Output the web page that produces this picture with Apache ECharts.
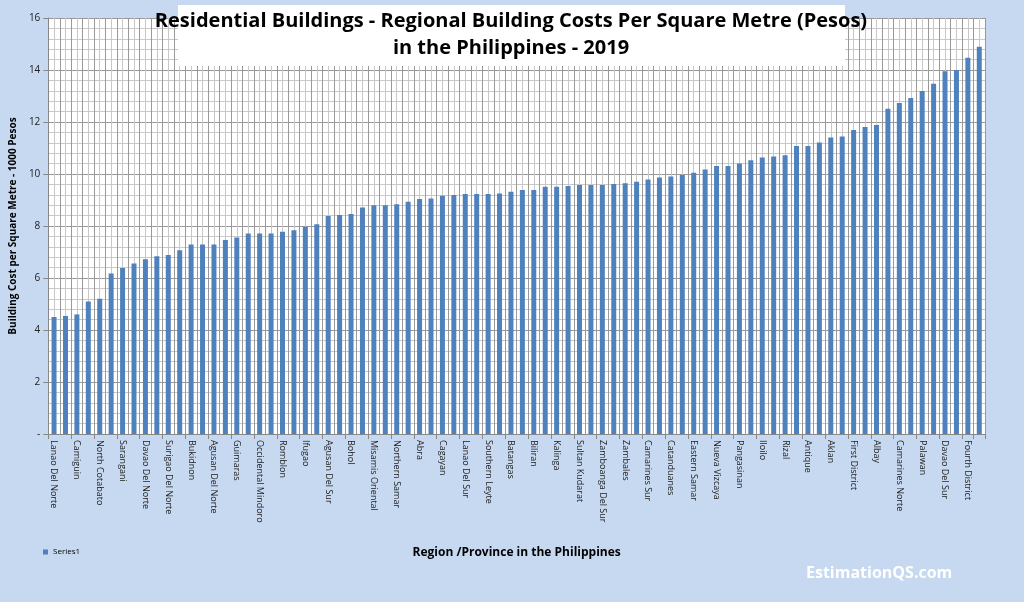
<!DOCTYPE html>
<html>
<head>
<meta charset="utf-8">
<script src="https://cdn.jsdelivr.net/npm/echarts@6/dist/echarts.min.js"></script>
<style>
html,body{margin:0;padding:0;background:#c6d9f0;}
#chart{width:1024px;height:602px;}
</style>
</head>
<body>
<div id="chart"></div>
<script>
// labelled provinces (every second bar carries a label)
var shownNames = ['Lanao Del Norte','Camiguin','North Cotabato','Sarangani','Davao Del Norte','Surigao Del Norte',
	'Bukidnon','Agusan Del Norte','Guimaras','Occidental Mindoro','Romblon','Ifugao','Agusan Del Sur','Bohol',
	'Misamis Oriental','Northern Samar','Abra','Cagayan','Lanao Del Sur','Southern Leyte','Batangas','Biliran',
	'Kalinga','Sultan Kudarat','Zamboanga Del Sur','Zambales','Camarines Sur','Catanduanes','Eastern Samar',
	'Nueva Vizcaya','Pangasinan','Iloilo','Rizal','Antique','Aklan','First District','Albay','Camarines Norte',
	'Palawan','Davao Del Sur','Fourth District'];
// cost per square metre, 1000 pesos
var costs = [4.5,4.54,4.6,5.1,5.2,6.17,6.38,6.56,6.72,6.84,6.88,7.07,7.29,7.29,7.29,7.46,7.56,7.71,7.71,7.71,
	7.78,7.84,7.97,8.07,8.38,8.42,8.46,8.71,8.8,8.8,8.84,8.93,9.04,9.06,9.16,9.19,9.23,9.23,9.23,9.25,
	9.32,9.38,9.38,9.51,9.51,9.54,9.58,9.58,9.58,9.62,9.64,9.7,9.79,9.87,9.9,9.96,10.05,10.17,10.31,10.31,
	10.4,10.53,10.63,10.67,10.72,11.08,11.08,11.21,11.4,11.44,11.69,11.81,11.88,12.51,12.73,12.92,13.19,13.47,13.95,14.0,
	14.47,14.89];
var yTicks = [0,2,4,6,8,10,12,14,16];

var categories = [];
for (var i = 0; i < costs.length; i++) {
	categories.push(i % 2 === 0 ? shownNames[i / 2] : '');
}

var chart = echarts.init(document.getElementById('chart'));
chart.setOption({
	backgroundColor: '#c6d9f0',
	animation: false,
	textStyle: {fontFamily: 'Open Sans'},
	graphic: [
		{type: 'rect', left: 178, top: 5, shape: {width: 667, height: 61}, style: {fill: '#fff'}, z: 10},
		{type: 'text', x: 511, y: 8, z: 11, style: {
			text: 'Residential Buildings - Regional Building Costs Per Square Metre (Pesos)\nin the Philippines - 2019',
			align: 'center', font: 'bold 20px "Open Sans"', lineHeight: 27, fill: '#000'}},
		{type: 'text', left: 806, top: 565, style: {text: 'EstimationQS.com', font: 'bold 16px "Open Sans"', fill: '#fff'}}
	],
	legend: {
		left: 38, top: 543, itemWidth: 5, itemHeight: 5, icon: 'rect',
		textStyle: {fontSize: 8, color: '#000'}
	},
	grid: {left: 42, right: 39, top: 18, bottom: 168, show: true, backgroundColor: '#fff', borderWidth: 0},
	xAxis: [{
		type: 'category', data: categories,
		axisLine: {lineStyle: {color: '#888'}},
		axisTick: {show: true, interval: 1, lineStyle: {color: '#888'}},
		axisLabel: {interval: 0, rotate: -90, fontSize: 9, color: '#222', margin: 6},
		splitLine: {show: false},
		name: 'Region /Province in the Philippines', nameLocation: 'middle', nameGap: 113,
		nameTextStyle: {fontWeight: 'bold', fontSize: 12, color: '#000'}
	}, {
		type: 'value', min: 0, max: 82, interval: 1, show: true,
		axisLine: {show: false}, axisTick: {show: false}, axisLabel: {show: false},
		splitLine: {show: true, lineStyle: {color: '#999', width: 1}},
		minorTick: {show: false, splitNumber: 2},
		minorSplitLine: {show: true, lineStyle: {color: '#c8c8c8', width: 1}}
	}],
	yAxis: {
		type: 'value', min: yTicks[0], max: yTicks[yTicks.length - 1], interval: 2,
		axisLine: {show: true, lineStyle: {color: '#888'}},
		axisTick: {show: true, lineStyle: {color: '#888'}},
		axisLabel: {fontSize: 10, color: '#222', formatter: function (v) { return v === 0 ? '-' : v; }},
		splitLine: {lineStyle: {color: '#999'}},
		minorTick: {show: false, splitNumber: 5},
		minorSplitLine: {show: true, lineStyle: {color: '#c8c8c8'}},
		name: 'Building Cost per Square Metre - 1000 Pesos', nameLocation: 'middle', nameGap: 28,
		nameTextStyle: {fontWeight: 'bold', fontSize: 10, color: '#000'}
	},
	series: [{
		name: 'Series1', type: 'bar', data: costs, barWidth: 5, xAxisIndex: 0,
		itemStyle: {color: '#4f81bd'}
	}]
});
</script>
</body>
</html>
